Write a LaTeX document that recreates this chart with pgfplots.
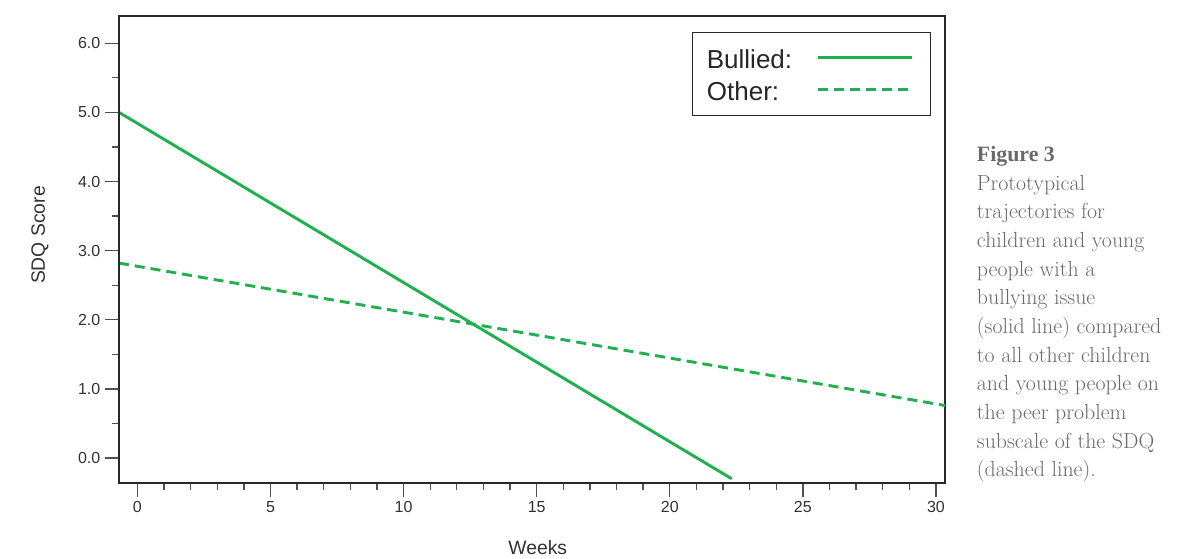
\documentclass[border=0pt]{standalone}
\usepackage{fontspec}
\usepackage{pgfplots}
\pgfplotsset{compat=1.18}
\newfontfamily\arialfont{Liberation Sans}
\newfontfamily\capboldfont{Liberation Serif}
\definecolor{sdqgreen}{RGB}{32,176,80}
\definecolor{axisgray}{RGB}{40,40,40}
\definecolor{tickgray}{RGB}{80,80,80}
\definecolor{labelgray}{RGB}{50,50,50}
\definecolor{captiongray}{RGB}{105,105,105}
\begin{document}
\begin{tikzpicture}
\begin{axis}[
  at={(89.25pt,56.25pt)}, anchor=south west,
  scale only axis, width=619.5pt, height=350.25pt,
  xmin=-0.69, xmax=30.34, ymin=-0.361, ymax=6.394,
  xtick={0,5,...,30}, minor x tick num=4,
  ytick={0,1,...,6}, minor y tick num=1,
  tick align=outside, xtick pos=bottom, ytick pos=left,
  major tick length=10.5pt, minor tick length=5.5pt,
  tick style={color=tickgray, line width=1pt},
  axis line style={color=axisgray, line width=1.2pt},
  ticklabel style={font=\arialfont\fontsize{12}{14}\selectfont, color=labelgray},
  /pgf/number format/assume math mode=true,
  yticklabel style={/pgf/number format/fixed, /pgf/number format/fixed zerofill, /pgf/number format/precision=1},
  xlabel={Weeks}, ylabel={SDQ Score},
  label style={font=\arialfont\fontsize{14.5}{17}\selectfont, color=labelgray},
  xlabel style={at={(axis description cs:0.507,-0.153)}, anchor=base},
  ylabel style={at={(axis description cs:-0.0896,0.531)}, anchor=base},
  legend style={at={(0.983,0.9664)}, anchor=north east, draw=axisgray, line width=0.8pt, fill=white,
    inner xsep=10.5pt, inner ysep=8pt, font=\arialfont\fontsize{19.5}{23}\selectfont, text=black!85,
    row sep=1.75pt, column sep=18pt, nodes={inner sep=0pt, text height=19pt, text depth=3.25pt}},
  legend plot pos=right, legend cell align=left,
  legend image code/.code={\draw[#1] (0pt,0pt) -- (71pt,0pt); \path (73pt,0pt);},
  after end axis/.code={\draw[axisgray, line width=1.8pt] (rel axis cs:0,1) -- (rel axis cs:0,0) -- (rel axis cs:1,0);},
]
\addplot[sdqgreen, line width=2.2pt] coordinates {(-0.69,5.0) (22.33,-0.30)};
\addlegendentry{Bullied:}
\addplot[sdqgreen, line width=2.2pt, dash pattern=on 7.5pt off 4.5pt] coordinates {(-0.69,2.82) (30.34,0.76)};
\addlegendentry{Other:}
\end{axis}
\node[anchor=north west, align=left, inner sep=0pt, font=\fontsize{16.4}{21.5}\selectfont, text=captiongray] at (732.5pt,309pt)
  {{\capboldfont\bfseries Figure 3}\\Prototypical\\trajectories for\\children and young\\people with a\\bullying issue\\(solid line) compared\\to all other children\\and young people on\\the peer problem\\subscale of the SDQ\\(dashed line).};
\pgfresetboundingbox
\useasboundingbox (0,0) rectangle (886.5pt,418.5pt);
\end{tikzpicture}
\end{document}
